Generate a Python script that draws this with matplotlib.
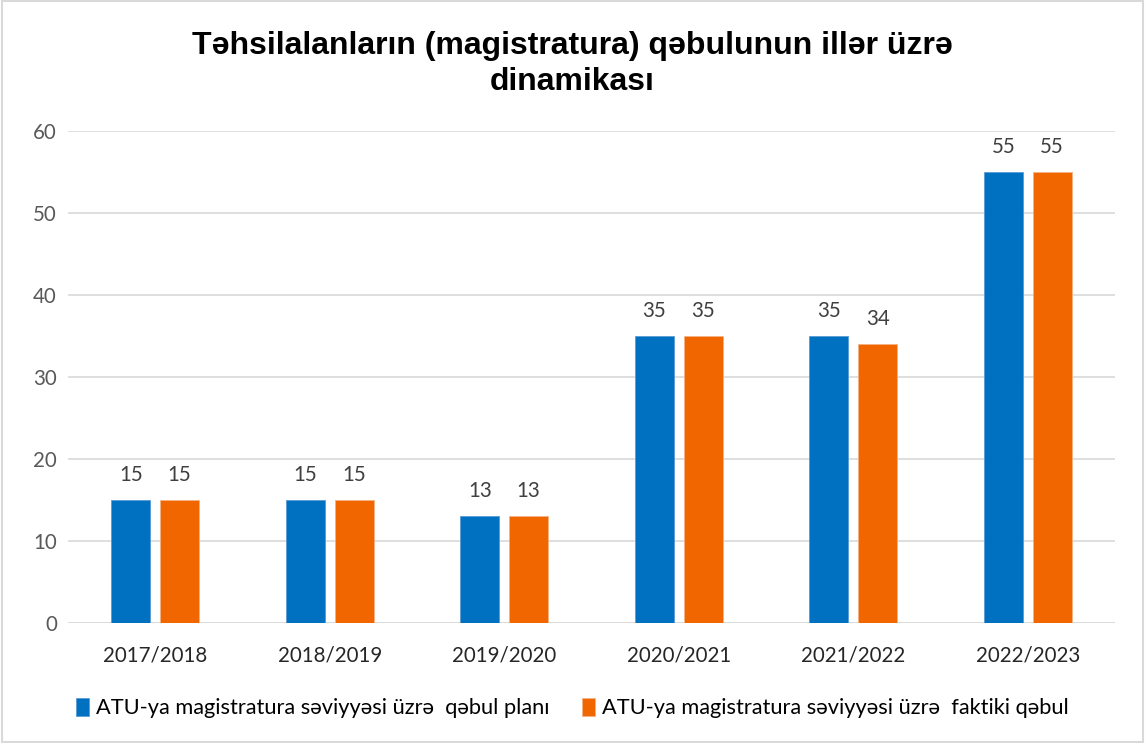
import matplotlib
matplotlib.use("Agg")
import matplotlib.pyplot as plt
import numpy as np
from matplotlib.patches import Rectangle

categories = ["2017/2018", "2018/2019", "2019/2020", "2020/2021", "2021/2022", "2022/2023"]
plan = [15, 15, 13, 35, 35, 55]
actual = [15, 15, 13, 35, 34, 55]
series_names = ["ATU-ya magistratura səviyyəsi üzrə  qəbul planı",
                "ATU-ya magistratura səviyyəsi üzrə  faktiki qəbul"]
yticks = [0, 10, 20, 30, 40, 50, 60]
title = "Təhsilalanların (magistratura) qəbulunun illər üzrə\ndinamikası"

blue = "#0070C0"
orange = "#F26600"
txt = "#404040"
tickc = "#595959"

W, H = 1145, 743
fig = plt.figure(figsize=(W / 100, H / 100), dpi=100)
ax = fig.add_axes([68 / W, 1 - 623 / H, (1115 - 68) / W, (623 - 131) / H])

x = np.arange(len(categories))
bw = 0.224
off = 0.14
b1 = ax.bar(x - off, plan, bw, color=blue, edgecolor="#5B9BD5", linewidth=0.6, label=series_names[0], zorder=3)
b2 = ax.bar(x + off, actual, bw, color=orange, edgecolor="#F4B183", linewidth=0.6, label=series_names[1], zorder=3)

fam = ["Lato", "DejaVu Sans"]
for bars in (b1, b2):
    for r in bars:
        ax.annotate(f"{int(r.get_height())}", (r.get_x() + r.get_width() / 2, r.get_height()),
                    xytext=(0, 11), textcoords="offset points", ha="center", va="bottom",
                    fontsize=14.8, color=txt, family=fam)

ax.set_xlim(-0.5, len(categories) - 0.5)
ax.set_ylim(0, 60)
ax.set_yticks(yticks)
ax.set_xticks(x)
ax.set_xticklabels(categories)
ax.grid(axis="y", color="#D9D9D9", linewidth=1.2, zorder=0)
for s in ax.spines.values():
    s.set_visible(False)
ax.tick_params(axis="both", length=0)
ax.tick_params(axis="y", pad=8, labelsize=14.8, labelcolor=tickc)
ax.tick_params(axis="x", pad=16, labelsize=14.8, labelcolor="#262626")
for lab in ax.get_xticklabels() + ax.get_yticklabels():
    lab.set_family(fam)
ax.axhline(0, color="#D9D9D9", linewidth=1.2, zorder=1)

fig.text(0.5, 1 - 64 / H, title, ha="center", va="center", fontsize=23, fontweight="bold",
         family=["Liberation Sans", "DejaVu Sans"], linespacing=1.3)

leg = fig.legend(handles=[b1, b2], loc="center", bbox_to_anchor=(0.5, 1 - 708 / H), ncol=2,
                 frameon=False, prop={"family": fam, "size": 15.7}, handlelength=0.6, handleheight=0.9,
                 handletextpad=0.3, columnspacing=1.5)

fig.patches.append(Rectangle((0.002, 0.002), 0.996, 0.996, transform=fig.transFigure,
                             fill=False, edgecolor="#D9D9D9", linewidth=1.5))

fig.savefig("out.png", dpi=100)
